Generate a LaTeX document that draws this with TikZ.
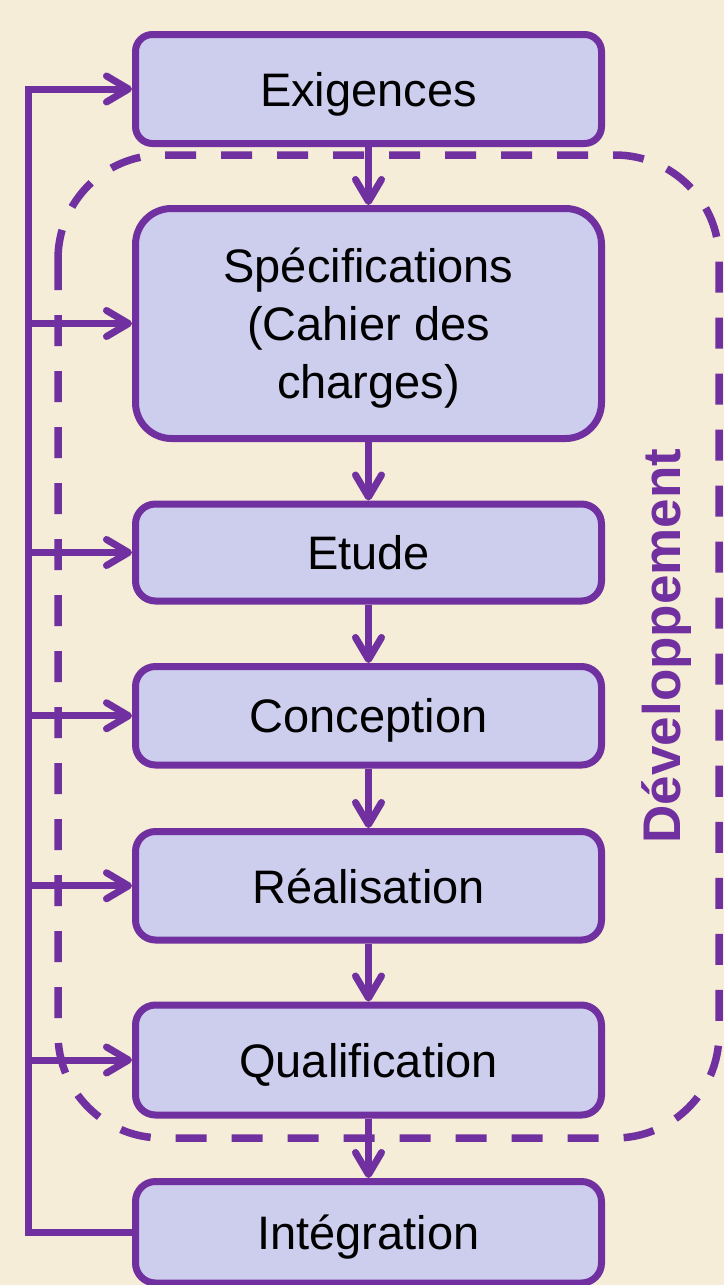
\documentclass[tikz,border=0pt]{standalone}
\usepackage{fontspec}
\setmainfont{Liberation Sans}
\usetikzlibrary{arrows.meta}
\definecolor{bgc}{RGB}{245,237,215}
\definecolor{purp}{RGB}{112,48,160}
\definecolor{boxfill}{RGB}{205,205,238}
\tikzset{
  stagebox/.style={draw=purp, fill=boxfill, line width=7pt, minimum width=466pt,
    rounded corners=20pt, inner sep=0pt, align=center, text depth=0pt,
    font=\fontsize{47}{58}\selectfont, text=black},
  flowline/.style={draw=purp, line width=7pt},
  flowarrow/.style={flowline, -{Straight Barb[length=22pt,width=26pt,line width=7pt,round]}},
}
\begin{document}
\begin{tikzpicture}[x=1pt,y=-1pt]
\useasboundingbox (0,0) rectangle (724,1285);
\fill[bgc] (0,0) rectangle (724,1285);
% development area
\draw[purp, line width=7.5pt, dash pattern=on 31pt off 25pt, rounded corners=104pt]
  (58,155) rectangle (719,1138);
\node[purp, font=\bfseries\fontsize{53}{60}\selectfont, rotate=90, anchor=base] (dev) at (680,646) {Développement};
% boxes
\node[stagebox, minimum height=109pt, rounded corners=17pt] (exig) at (368.5,89) {Exigences};
\node[stagebox, minimum height=230pt, rounded corners=36pt] (spec) at (368.5,323.5) {Spécifications\\(Cahier des\\charges)};
\node[stagebox, minimum height=97pt] (etude) at (368.5,552.5) {Etude};
\node[stagebox, minimum height=98.5pt] (conc) at (368.5,715.75) {Conception};
\node[stagebox, minimum height=108.5pt] (real) at (368.5,885.75) {Réalisation};
\node[stagebox, minimum height=110pt] (qual) at (368.5,1060) {Qualification};
\node[stagebox, minimum height=101.5pt] (intg) at (368.5,1232.25) {Intégration};
% downward flow
\draw[flowarrow] (exig) -- (spec);
\draw[flowarrow] (spec) -- (etude);
\draw[flowarrow] (etude) -- (conc);
\draw[flowarrow] (conc) -- (real);
\draw[flowarrow] (real) -- (qual);
\draw[flowarrow] (qual) -- (intg);
% feedback
\coordinate (fbtop) at (28.5,89);
\draw[flowarrow] (intg.west) -| (fbtop) -- (exig.west);
\draw[flowarrow] (fbtop |- spec.west) -- (spec.west);
\draw[flowarrow] (fbtop |- etude.west) -- (etude.west);
\draw[flowarrow] (fbtop |- conc.west) -- (conc.west);
\draw[flowarrow] (fbtop |- real.west) -- (real.west);
\draw[flowarrow] (fbtop |- qual.west) -- (qual.west);
\end{tikzpicture}
\end{document}
